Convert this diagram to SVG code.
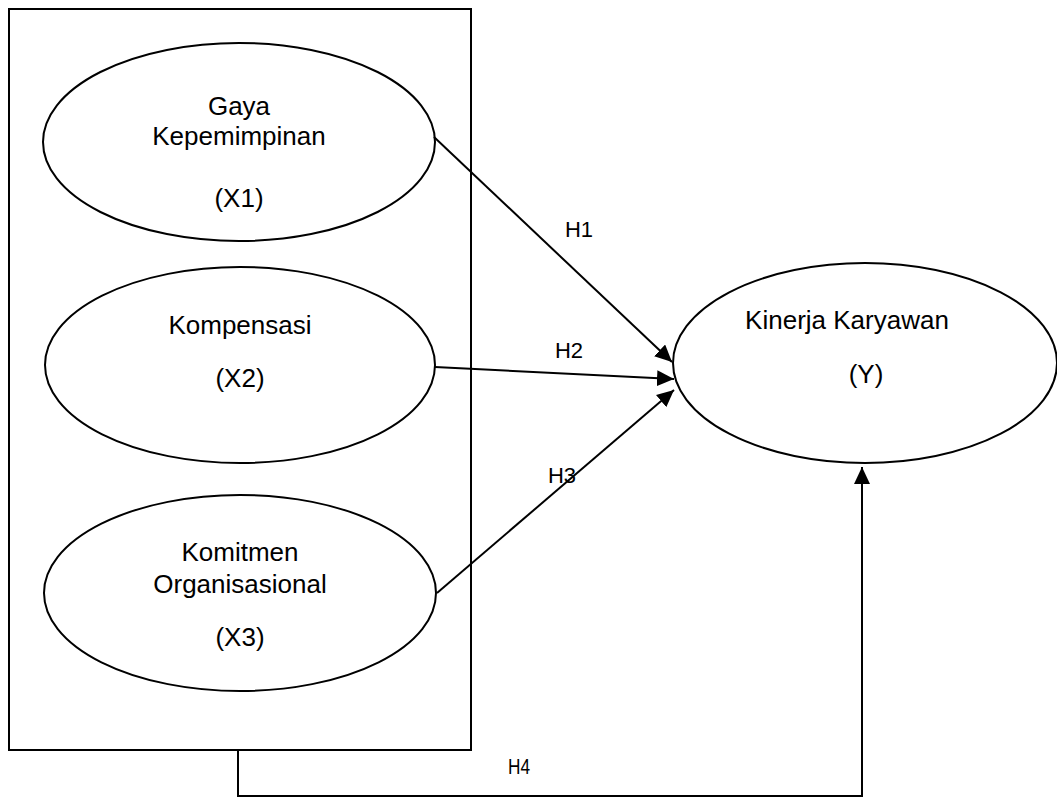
<svg xmlns="http://www.w3.org/2000/svg" width="1057" height="798" viewBox="0 0 1057 798">
<style>
.shape{fill:#fff;stroke:#000;stroke-width:2}
.t{font-family:"Liberation Sans",Arial,sans-serif;font-size:26px;fill:#000;text-anchor:middle}
.h{font-family:"Liberation Sans",Arial,sans-serif;font-size:22px;fill:#000;text-anchor:middle}
.c{fill:none;stroke:#000;stroke-width:2}
</style>
<defs>
<marker id="arr" markerUnits="userSpaceOnUse" markerWidth="18" markerHeight="17" refX="17" refY="8" orient="auto">
<path d="M0,0 L17,8 L0,16 z" fill="#000"/>
</marker>
</defs>
<rect width="1057" height="798" fill="#fff"/>
<g id="group-box"><rect class="shape" x="9" y="9" width="462" height="741"/></g>
<g id="x1">
<ellipse class="shape" cx="239" cy="142" rx="196" ry="99"/>
<text class="t" x="239" y="115">Gaya</text>
<text class="t" x="239" y="145">Kepemimpinan</text>
<text class="t" x="239" y="207">(X1)</text>
</g>
<g id="x2">
<ellipse class="shape" cx="240" cy="365" rx="195" ry="98"/>
<text class="t" x="240" y="334">Kompensasi</text>
<text class="t" x="240" y="387">(X2)</text>
</g>
<g id="x3">
<ellipse class="shape" cx="240" cy="593" rx="196" ry="98"/>
<text class="t" x="240" y="561">Komitmen</text>
<text class="t" x="240" y="593">Organisasional</text>
<text class="t" x="240" y="646">(X3)</text>
</g>
<g id="y">
<ellipse class="shape" cx="865" cy="363" rx="192" ry="100"/>
<text class="t" x="847" y="329">Kinerja Karyawan</text>
<text class="t" x="866" y="383">(Y)</text>
</g>
<g id="connectors">
<line class="c" x1="434" y1="137" x2="672" y2="362" marker-end="url(#arr)"/>
<line class="c" x1="435" y1="367" x2="674" y2="379" marker-end="url(#arr)"/>
<line class="c" x1="437" y1="593" x2="674" y2="390" marker-end="url(#arr)"/>
<polyline class="c" points="238,750 238,796 862,796 862,467" marker-end="url(#arr)"/>
<text class="h" x="579" y="237">H1</text>
<text class="h" x="569" y="358">H2</text>
<text class="h" x="562" y="483">H3</text>
<text class="h" x="519" y="774" textLength="22" lengthAdjust="spacingAndGlyphs">H4</text>
</g>
</svg>
